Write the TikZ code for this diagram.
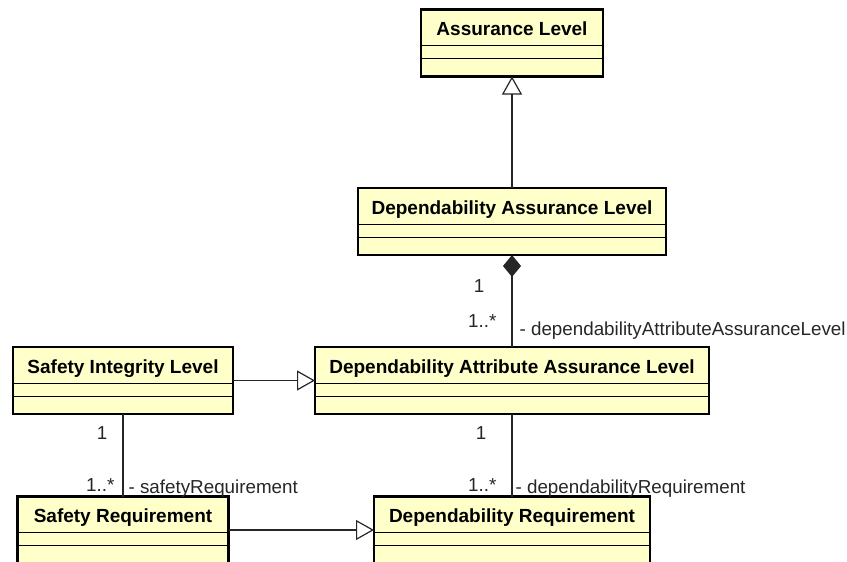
\documentclass[tikz,border=0pt]{standalone}
\usepackage{fontspec}
\setmainfont{Liberation Sans}
\usetikzlibrary{arrows.meta,positioning}
\definecolor{classfill}{RGB}{255,255,202}

\begin{document}
\begin{tikzpicture}[
    x=1pt, y=-1pt,
    node distance=82pt,
    umlclass/.style={rectangle, draw=black, line width=2.7pt, fill=classfill, inner sep=0pt,
                     outer sep=0pt, minimum height=67pt, text height=26pt, text depth=41pt,
                     font=\fontsize{19}{22}\selectfont\bfseries},
    assoc/.style={line width=1.2pt, color=black!85},
    generalization/.style={assoc, -{Triangle[open, length=18pt, width=20pt, fill=white]}},
    composition/.style={assoc, {Diamond[length=22pt, width=18pt]}-},
    mult/.style={inner sep=0pt, font=\fontsize{18.8}{22}\selectfont, text=black!85}
]
    \useasboundingbox (0,0) rectangle (847,562);

    % Assurance Level (top)
    \node[umlclass, minimum width=182pt] (al) at (512,43) {Assurance Level};

    % Dependability levels (centre column)
    \node[umlclass, minimum width=308pt, below=111.5pt of al] (dal) {Dependability Assurance Level};
    \node[umlclass, minimum width=394pt, below=92pt of dal] (daal) {Dependability Attribute Assurance Level};
    \node[umlclass, minimum width=276pt, below=82.5pt of daal] (dr) {Dependability Requirement};

    % Safety classes (left column)
    \node[umlclass, minimum width=220pt, left=of daal] (sil) {Safety Integrity Level};
    \node[umlclass, minimum width=211pt, below=82.5pt of sil] (sr) {Safety Requirement};

    % Compartment lines
    \foreach \cls in {al,dal,daal,sil,sr,dr} {
        \draw[line width=0.9pt] ([yshift=-36pt]\cls.north west) -- ([yshift=-36pt]\cls.north east);
        \draw[line width=0.9pt] ([yshift=-49pt]\cls.north west) -- ([yshift=-49pt]\cls.north east);
    }

    % Generalizations
    \draw[generalization] (dal.north) -- (al.south);
    \draw[generalization] (sil.east) -- (daal.west);
    \draw[generalization] (sr.east) -- (dr.west);

    % Composition
    \draw[composition] (dal.south) -- (daal.north)
        node[mult, pos=.413, anchor=base east, xshift=-27pt] {1}
        node[mult, pos=.783, anchor=base east, xshift=-15pt] {1..*}
        node[mult, pos=.870, anchor=base west, xshift=7pt] {- dependabilityAttributeAssuranceLevel};

    % Associations
    \draw[assoc] (sil.south) -- (sil.south |- sr.north)
        node[mult, pos=.303, anchor=base east, xshift=-15pt] {1}
        node[mult, pos=.939, anchor=base east, xshift=-8pt] {1..*}
        node[mult, pos=.958, anchor=base west, xshift=5pt] {- safetyRequirement};
    \draw[assoc] (daal.south) -- (daal.south |- dr.north)
        node[mult, pos=.303, anchor=base east, xshift=-25pt] {1}
        node[mult, pos=.945, anchor=base east, xshift=-15pt] {1..*}
        node[mult, pos=.958, anchor=base west, xshift=3pt] {- dependabilityRequirement};
\end{tikzpicture}
\end{document}
